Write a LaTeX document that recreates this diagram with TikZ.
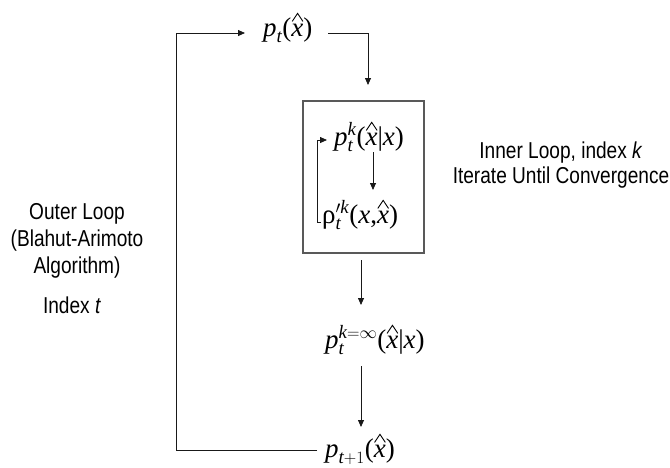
\documentclass[tikz,border=0pt]{standalone}
\usepackage{amsmath}
\usepackage{fontspec}
\setmainfont{Liberation Serif}
\newfontfamily\labfont[FakeStretch=0.83]{Liberation Sans}
\usetikzlibrary{arrows.meta}
\newcommand\iv[1]{\textit{#1}}
\newcommand\lpar{\text{(}}
\newcommand\rpar{\text{)}}
\newcommand\vbar{\text{|}}
\newcommand\cma{\text{,}}
\newcommand\xh{\text{\textit{x}\llap{\tikz[baseline=0pt]\draw[line width=0.9pt, line join=miter] (0,0.54em) -- (0.2em,0.84em) -- (0.4em,0.54em);\kern0.0em}}}
\tikzset{
  lbl/.style={font=\labfont\fontsize{23}{27}\selectfont, align=center, inner sep=0pt},
  mth/.style={font=\fontsize{27}{31}\selectfont, inner sep=0pt, anchor=base west},
  ln/.style={draw=black!90, line width=0.8pt},
  arr/.style={ln, -{Triangle[length=7pt,width=6pt]}},
  boxst/.style={draw=black!65, line width=1.4pt, minimum width=121pt, minimum height=152pt, inner sep=0pt}
}
\begin{document}
\begin{tikzpicture}[x=1pt,y=-1pt]
\useasboundingbox (0,0) rectangle (670,467);
% math nodes
\node[mth] (ptop) at (263,36) {$\iv{p}_{\iv{t}}\lpar\xh\rpar$};
\node[boxst] (box) at (363.5,177) {};
\node[mth] (pk) at (334,145) {$\iv{p}_{\iv{t}}^{\iv{k}}\lpar\xh\vbar\iv{x}\rpar$};
\node[mth] (rho) at (322,223) {$\text{ρ}_{\iv{t}}^{\prime\iv{k}}\lpar\iv{x}\cma\xh\rpar$};
\node[mth] (pinf) at (325,348) {$\iv{p}_{\iv{t}}^{\iv{k}=\infty}\lpar\xh\vbar\iv{x}\rpar$};
\node[mth] (pnext) at (325,457) {$\iv{p}_{\iv{t}+1}\lpar\xh\rpar$};
% labels
\node[lbl] (outer) at (77,241) {Outer Loop\\(Blahut-Arimoto\\Algorithm)};
\node[lbl] (idx) at (72,305) {Index \textit{t}};
\node[lbl, font=\labfont\fontsize{23}{25}\selectfont] (inner) at (561,165) {Inner Loop, index \textit{k}\\Iterate Until Convergence};
% coordinates for free ends
\coordinate (tl) at (176,33);
\coordinate (bl) at (176,450);
\coordinate (toptip) at (245,33);
\coordinate (topstart) at (328,33);
\coordinate (botend) at (317,450);
\coordinate (topend) at (368,85);
\coordinate (a1s) at (361,260);
\coordinate (a1e) at (361,305);
\coordinate (a2s) at (361,366);
\coordinate (a2e) at (361,427);
\coordinate (i1s) at (373,152);
\coordinate (i1e) at (373,190);
\coordinate (fbx) at (317,222);
\coordinate (fbtip) at (327,140);
% outer loop
\draw[arr] (botend) -- (bl) -- (tl) -- (toptip);
\draw[arr] (topstart) -| (topend);
% inner
\draw[arr] (i1s) -- (i1e);
\draw[arr] ([xshift=-1pt]rho.west |- fbx) -- (fbx) |- (fbtip);
% down
\draw[arr] (a1s) -- (a1e);
\draw[arr] (a2s) -- (a2e);
\end{tikzpicture}
\end{document}
